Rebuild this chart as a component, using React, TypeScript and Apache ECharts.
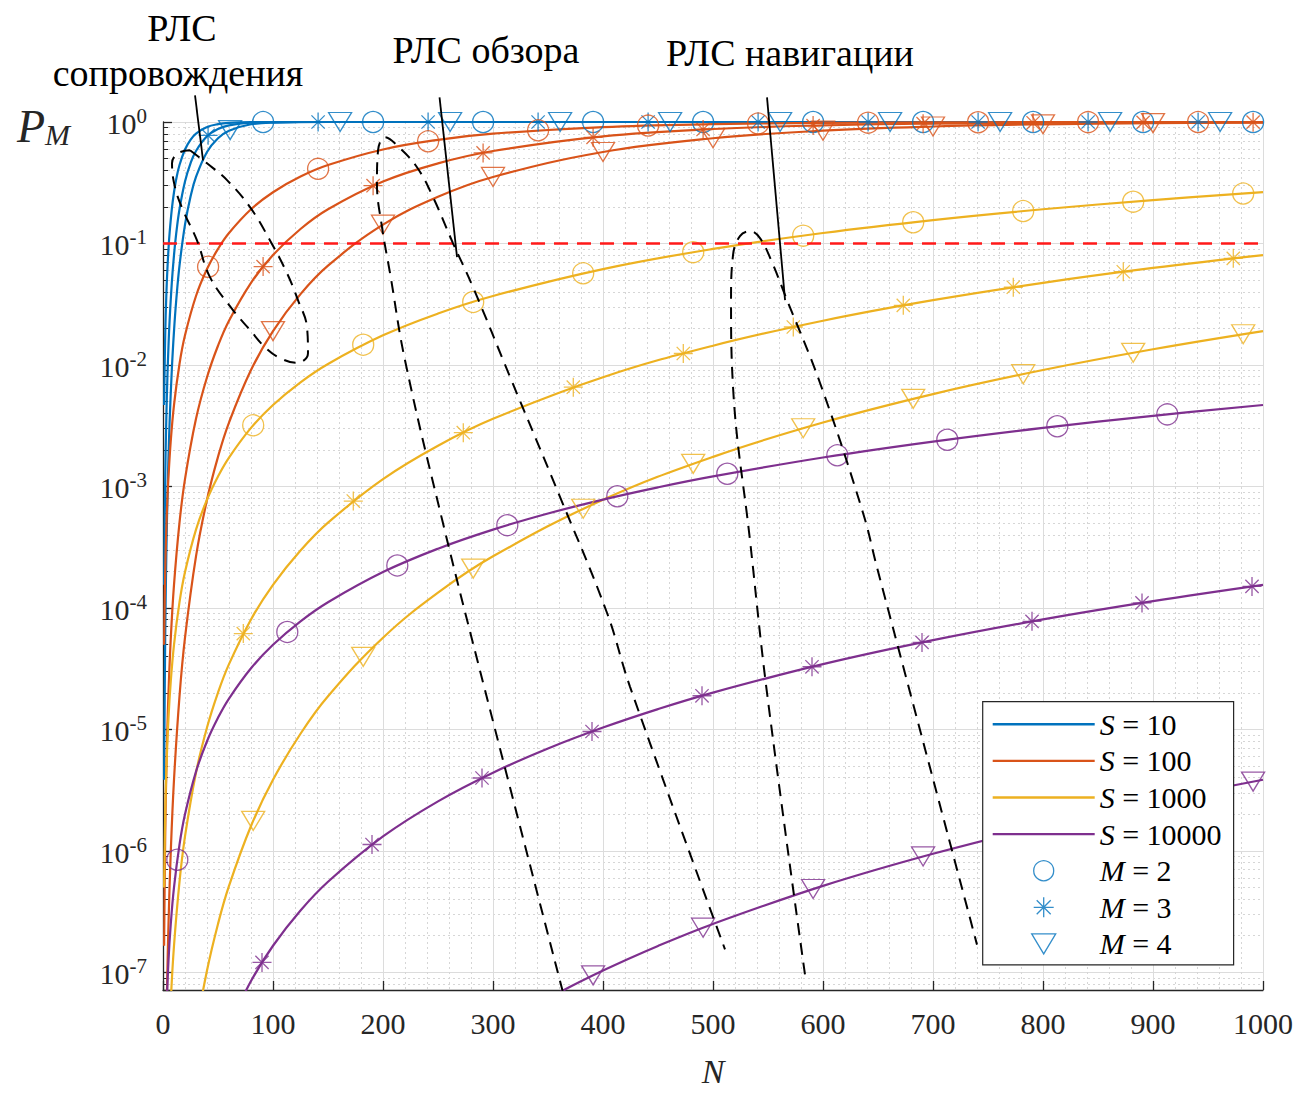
import React, { useEffect, useRef } from 'react';
import * as echarts from 'echarts';

const FONT = '"Liberation Serif", "Times New Roman", serif';
const COLORS = ['#0072BD', '#D95319', '#EDB120', '#7E2F8E'];
const S_NAMES = ['S = 10', 'S = 100', 'S = 1000', 'S = 10000'];
const M_NAMES = ['M = 2', 'M = 3', 'M = 4'];
const Y_MIN = 7.15e-8;
const Y_MAX = 1;
const THRESHOLD = 0.1;

// ---- curves (N, P_M) ----
const N_S10 = [1, 2, 3, 4, 5, 6, 8, 10, 12, 15, 20, 25, 30, 40, 50, 60, 80, 100, 150, 1000];
const P_S10_M2 = [0.00468, 0.01752, 0.03694, 0.06155, 0.0902, 0.1219, 0.1912, 0.2642, 0.3374, 0.4422, 0.594, 0.7127, 0.8009, 0.9084, 0.9596, 0.9826, 0.997, 0.9995, 1, 1];
const P_S10_M3 = [1.547e-4, 0.001148, 0.0036, 0.007926, 0.01439, 0.02312, 0.04742, 0.0803, 0.1205, 0.1912, 0.3233, 0.4562, 0.5768, 0.7619, 0.8753, 0.938, 0.9862, 0.9972, 1, 1];
const P_S10_M4 = [3.847e-6, 5.684e-5, 2.658e-4, 7.763e-4, 0.0017516, 0.003357, 0.00908, 0.01899, 0.03377, 0.06564, 0.1429, 0.2424, 0.3528, 0.5665, 0.735, 0.8488, 0.9576, 0.9897, 0.9998, 1];

const N_S100 = [1, 2, 3, 4, 5, 7, 10, 15, 20, 30, 40, 50, 60, 80, 100, 125, 150, 200, 250, 300, 400, 500, 600, 700, 800, 900, 1000];
const P_S100_M2 = [4.967e-5, 1.9735e-4, 4.411e-4, 7.789e-4, 0.0012089, 0.0023378, 0.004679, 0.010186, 0.01752, 0.03694, 0.06155, 0.0902, 0.1219, 0.1912, 0.2642, 0.3554, 0.4422, 0.594, 0.7127, 0.8009, 0.9084, 0.9596, 0.9826, 0.9927, 0.997, 0.9988, 0.9995];
const P_S100_M3 = [1.654e-7, 1.3134e-6, 4.4e-6, 1.0351e-5, 2.0067e-5, 5.424e-5, 1.547e-4, 5.027e-4, 0.001148, 0.0036, 0.007926, 0.01439, 0.02312, 0.04742, 0.0803, 0.1315, 0.1912, 0.3233, 0.4562, 0.5768, 0.7619, 0.8753, 0.938, 0.9704, 0.9862, 0.9938, 0.9972];
const P_S100_M4 = [4.1e-10, 6.5e-9, 3.275e-8, 1.033e-7, 2.502e-7, 9.459e-7, 3.847e-6, 1.8715e-5, 5.684e-5, 2.658e-4, 7.763e-4, 0.0017516, 0.003357, 0.00908, 0.01899, 0.03827, 0.06564, 0.1429, 0.2424, 0.3528, 0.5665, 0.735, 0.8488, 0.9182, 0.9576, 0.9788, 0.9897];

const N_S1000 = [1, 2, 3, 5, 7, 10, 15, 20, 30, 40, 50, 60, 80, 100, 125, 150, 200, 250, 300, 400, 500, 600, 700, 800, 900, 1000];
const P_S1000_M2 = [4.997e-7, 1.9973e-6, 4.491e-6, 1.2458e-5, 2.4387e-5, 4.967e-5, 1.1138e-4, 1.9735e-4, 4.411e-4, 7.789e-4, 0.0012089, 0.0017292, 0.0030333, 0.004679, 0.007191, 0.010186, 0.01752, 0.0265, 0.03694, 0.06155, 0.0902, 0.1219, 0.1558, 0.1912, 0.2275, 0.2642];
const P_S1000_M3 = [1.67e-10, 1.33e-9, 4.5e-9, 2.07e-8, 5.68e-8, 1.654e-7, 5.562e-7, 1.3134e-6, 4.4e-6, 1.0351e-5, 2.0067e-5, 3.4416e-5, 8.036e-5, 1.547e-4, 2.964e-4, 5.027e-4, 0.001148, 0.002161, 0.0036, 0.007926, 0.01439, 0.02312, 0.03414, 0.04742, 0.06286, 0.0803];
const P_S1000_M4 = [4.2e-14, 6.7e-13, 3.4e-12, 2.6e-11, 1.0e-10, 4.1e-10, 2.1e-9, 6.5e-9, 3.28e-8, 1.033e-7, 2.502e-7, 5.147e-7, 1.6008e-6, 3.847e-6, 9.204e-6, 1.8715e-5, 5.684e-5, 1.3337e-4, 2.658e-4, 7.763e-4, 0.0017516, 0.003357, 0.005754, 0.00908, 0.013458, 0.01899];

const N_S10000 = [3, 5, 7, 10, 15, 20, 30, 40, 50, 60, 80, 100, 125, 150, 200, 250, 300, 350, 400, 450, 500, 600, 700, 800, 900, 1000];
const P_S10000_M2 = [4.5e-8, 1.25e-7, 2.45e-7, 5.0e-7, 1.125e-6, 2.0e-6, 4.49e-6, 7.98e-6, 1.2458e-5, 1.7928e-5, 3.183e-5, 4.967e-5, 7.748e-5, 1.1138e-4, 1.9735e-4, 3.0733e-4, 4.411e-4, 5.984e-4, 7.789e-4, 9.826e-4, 0.0012089, 0.0017292, 0.0023378, 0.0030333, 0.0038133, 0.004679];
const P_S10000_M3 = [4.5e-12, 2.1e-11, 5.7e-11, 1.67e-10, 5.6e-10, 1.33e-9, 4.5e-9, 1.07e-8, 2.08e-8, 3.58e-8, 8.465e-8, 1.654e-7, 3.2247e-7, 5.562e-7, 1.3134e-6, 2.5557e-6, 4.4e-6, 6.961e-6, 1.0351e-5, 1.4684e-5, 2.0067e-5, 3.4416e-5, 5.424e-5, 8.036e-5, 1.1356e-4, 1.547e-4];
const P_S10000_M4 = [3.4e-16, 2.6e-15, 1.0e-14, 4.2e-14, 2.1e-13, 6.7e-13, 3.4e-12, 1.07e-11, 2.6e-11, 5.4e-11, 1.7e-10, 4.1e-10, 1.0e-9, 2.1e-9, 6.5e-9, 1.6e-8, 3.28e-8, 6.08e-8, 1.033e-7, 1.648e-7, 2.502e-7, 5.147e-7, 9.459e-7, 1.6008e-6, 2.544e-6, 3.847e-6];

// ---- marker positions (N, P_M) ----
const MK_N_S10_M2 = [91, 191, 291, 391, 491, 591, 691, 791, 891, 991];
const MK_P_S10_M2 = [0.9989, 1, 1, 1, 1, 1, 1, 1, 1, 1];
const MK_N_S10_M3 = [41, 141, 241, 341, 441, 541, 641, 741, 841, 941];
const MK_P_S10_M3 = [0.7762, 0.9999, 1, 1, 1, 1, 1, 1, 1, 1];
const MK_N_S10_M4 = [61, 161, 261, 361, 461, 561, 661, 761, 861, 961];
const MK_P_S10_M4 = [0.8575, 1, 1, 1, 1, 1, 1, 1, 1, 1];

const MK_N_S100_M2 = [41, 141, 241, 341, 441, 541, 641, 741, 841, 941];
const MK_P_S100_M2 = [0.06425, 0.4116, 0.6937, 0.8543, 0.9342, 0.9713, 0.9878, 0.9949, 0.9979, 0.9991];
const MK_N_S100_M3 = [91, 191, 291, 391, 491, 591, 691, 791, 891, 991];
const MK_P_S100_M3 = [0.0645, 0.299, 0.5563, 0.7484, 0.8676, 0.9339, 0.9683, 0.9852, 0.9933, 0.997];
const MK_N_S100_M4 = [100, 200, 300, 400, 500, 600, 700, 800, 900];
const MK_P_S100_M4 = [0.01899, 0.1429, 0.3528, 0.5665, 0.735, 0.8488, 0.9182, 0.9576, 0.9788];

const MK_N_S1000_M2 = [82, 182, 282, 382, 482, 582, 682, 782, 882, 982];
const MK_P_S1000_M2 = [0.003184, 0.01468, 0.03302, 0.05679, 0.0848, 0.116, 0.1496, 0.1848, 0.2209, 0.2576];
const MK_N_S1000_M3 = [73, 173, 273, 373, 473, 573, 673, 773, 873, 973];
const MK_P_S1000_M3 = [6.14e-5, 7.58e-4, 0.002767, 0.006556, 0.01242, 0.02053, 0.03094, 0.04362, 0.05849, 0.0754];
const MK_N_S1000_M4 = [82, 182, 282, 382, 482, 582, 682, 782, 882, 982];
const MK_P_S1000_M4 = [1.764e-6, 3.954e-5, 2.105e-4, 6.549e-4, 0.001534, 0.003013, 0.005257, 0.008398, 0.012588, 0.017901];

const MK_N_S10000_M2 = [13, 113, 213, 313, 413, 513, 613, 713, 813, 913];
const MK_P_S10000_M2 = [8.443e-7, 6.337e-5, 2.2364e-4, 4.7968e-4, 8.2955e-4, 0.0012713, 0.001803, 0.0024226, 0.0031285, 0.0039185];
const MK_N_S10000_M3 = [90, 190, 290, 390, 490, 590, 690, 790, 890, 990];
const MK_P_S10000_M3 = [1.2068e-7, 1.127e-6, 3.9774e-6, 9.6019e-6, 1.8902e-5, 3.2751e-5, 5.1996e-5, 7.7458e-5, 1.0993e-4, 1.5018e-4];
const MK_N_S10000_M4 = [391, 491, 591, 691, 791, 891, 991];
const MK_P_S10000_M4 = [9.439e-8, 2.3285e-7, 4.8488e-7, 8.9895e-7, 1.5313e-6, 2.4458e-6, 3.7132e-6];

// ---- annotations (in N, P_M coordinates) ----
const ANNOT_TRACKING: [number, number][] = [[24.5, 0.585], [40, 0.457], [58.2, 0.332], [79.1, 0.199], [97.3, 0.106], [112.7, 0.057], [122.7, 0.0342], [130.9, 0.0205], [131.8, 0.0125], [121.8, 0.0104], [106.4, 0.0114], [92.7, 0.014], [79.1, 0.0194], [63.6, 0.0283], [42.7, 0.0528], [30.9, 0.106], [18.2, 0.188], [10.9, 0.29], [8.2, 0.457], [13.6, 0.553], [24.5, 0.585]];
const ANNOT_SURVEY: [number, number][] = [[363.6, 6.84e-8], [292.7, 2.11e-5], [254.5, 4.99e-4], [220, 0.01092], [206.4, 0.057], [199.1, 0.1362], [194.5, 0.3133], [195.5, 0.585], [201.8, 0.748], [212.7, 0.643], [230.9, 0.424], [245.5, 0.2404], [263.6, 0.1006], [281.8, 0.04375], [315.5, 0.00796], [360.9, 8.2e-4], [403.6, 9.12e-5], [424.5, 2.25e-5], [510.9, 1.545e-7]];
const ANNOT_NAV: [number, number][] = [[583.6, 9.6e-8], [549.1, 2.0e-5], [533.6, 3.63e-4], [518.2, 0.00658], [516.4, 0.0342], [518.2, 0.0801], [524.5, 0.1148], [533.6, 0.1262], [542.7, 0.1106], [553.6, 0.0702], [565.5, 0.0376], [597.3, 0.0071], [636.4, 6.05e-4], [649, 2.17e-4], [740, 1.69e-7]];
const LEADER_TRACKING: [number, number][] = [[29.1, 1.658], [36.4, 0.484]];
const LEADER_SURVEY: [number, number][] = [[251.4, 1.596], [267.3, 0.0772]];
const LEADER_NAV: [number, number][] = [[549.1, 1.596], [565.5, 0.0342]];

const TITLE_TRACKING_1 = 'РЛС';
const TITLE_TRACKING_2 = 'сопровождения';
const TITLE_SURVEY = 'РЛС обзора';
const TITLE_NAV = 'РЛС навигации';

const GROUPS = [
  { n: N_S10, p: [P_S10_M2, P_S10_M3, P_S10_M4], mn: [MK_N_S10_M2, MK_N_S10_M3, MK_N_S10_M4], mp: [MK_P_S10_M2, MK_P_S10_M3, MK_P_S10_M4] },
  { n: N_S100, p: [P_S100_M2, P_S100_M3, P_S100_M4], mn: [MK_N_S100_M2, MK_N_S100_M3, MK_N_S100_M4], mp: [MK_P_S100_M2, MK_P_S100_M3, MK_P_S100_M4] },
  { n: N_S1000, p: [P_S1000_M2, P_S1000_M3, P_S1000_M4], mn: [MK_N_S1000_M2, MK_N_S1000_M3, MK_N_S1000_M4], mp: [MK_P_S1000_M2, MK_P_S1000_M3, MK_P_S1000_M4] },
  { n: N_S10000, p: [P_S10000_M2, P_S10000_M3, P_S10000_M4], mn: [MK_N_S10000_M2, MK_N_S10000_M3, MK_N_S10000_M4], mp: [MK_P_S10000_M2, MK_P_S10000_M3, MK_P_S10000_M4] },
];

const STAR_PATH = 'path://M10,0L10,20M0,10L20,10M3,3L17,17M3,17L17,3';
const TRI_PATH = 'path://M0,0L24,0L12,20Z';
const LINE_ICON = 'path://M0,0H100V2.4H0Z';
const MARKER_SYMBOLS = ['circle', STAR_PATH, TRI_PATH];
const MARKER_SIZES: any[] = [21, 19, [23, 19]];

function buildOption() {
  const series: any[] = [];
  GROUPS.forEach((g, si) => {
    g.p.forEach((pArr) => {
      series.push({
        type: 'line',
        name: S_NAMES[si],
        data: g.n.map((n, i) => [n, pArr[i]]),
        symbol: 'none',
        showSymbol: false,
        smooth: 0.4,
        lineStyle: { color: COLORS[si], width: 2.2 },
        itemStyle: { color: COLORS[si] },
        z: 2,
        silent: true,
      });
    });
    g.mn.forEach((nArr, mi) => {
      series.push({
        type: 'scatter',
        name: M_NAMES[mi],
        data: nArr.map((n, i) => [n, g.mp[mi][i]]),
        symbol: MARKER_SYMBOLS[mi],
        symbolSize: MARKER_SIZES[mi],
        itemStyle: { color: 'transparent', borderColor: COLORS[si], borderWidth: 1.3 },
        z: 3,
        silent: true,
      });
    });
  });

  series.push({
    type: 'line',
    name: 'threshold',
    data: [[0, THRESHOLD], [1000, THRESHOLD]],
    symbol: 'none',
    lineStyle: { color: '#FF1A1A', width: 2.5, type: [14, 9] },
    z: 4,
    silent: true,
  });

  [ANNOT_TRACKING, ANNOT_SURVEY, ANNOT_NAV].forEach((a) => {
    series.push({
      type: 'line',
      name: 'annot',
      data: a,
      symbol: 'none',
      smooth: 0.4,
      lineStyle: { color: '#000', width: 2, type: [12, 8] },
      z: 5,
      silent: true,
    });
  });
  [LEADER_TRACKING, LEADER_SURVEY, LEADER_NAV].forEach((a) => {
    series.push({
      type: 'line',
      name: 'leader',
      data: a,
      symbol: 'none',
      clip: false,
      lineStyle: { color: '#000', width: 1.8 },
      z: 5,
      silent: true,
    });
  });

  const titleText = (text: string, x: number, y: number) => ({
    type: 'text',
    x,
    y,
    silent: true,
    style: { text, fill: '#000', fontSize: 38, fontFamily: FONT, align: 'center', verticalAlign: 'middle' },
  });

  return {
    animation: false,
    backgroundColor: '#fff',
    grid: { left: 163, top: 122, width: 1100, height: 868, containLabel: false, outerBoundsMode: 'none' },
    xAxis: {
      type: 'value',
      min: 0,
      max: 1000,
      interval: 100,
      axisLine: { show: true, onZero: false, lineStyle: { color: '#262626', width: 1.3 } },
      axisTick: { show: true, inside: true, length: 9, lineStyle: { color: '#262626', width: 1.3 } },
      minorTick: { show: false, splitNumber: 5 },
      axisLabel: { show: true, margin: 18, fontSize: 30, fontFamily: FONT, color: '#262626', formatter: (v: number) => String(v) },
      splitLine: { show: true, lineStyle: { color: '#dcdcdc', width: 1 } },
      minorSplitLine: { show: true, lineStyle: { color: '#d6d6d6', width: 1, type: [2, 3] } },
      name: 'N',
      nameLocation: 'middle',
      nameGap: 64,
      nameTextStyle: { fontSize: 34, fontStyle: 'italic', fontFamily: FONT, color: '#262626' },
    },
    yAxis: {
      type: 'log',
      logBase: 10,
      min: Y_MIN,
      max: Y_MAX,
      axisLine: { show: true, lineStyle: { color: '#262626', width: 1.3 } },
      axisTick: { show: true, inside: true, length: 9, lineStyle: { color: '#262626', width: 1.3 } },
      minorTick: { show: true, splitNumber: 9, length: 5, lineStyle: { color: '#262626', width: 1 } },
      axisLabel: {
        show: true,
        margin: 16,
        color: '#262626',
        formatter: (v: number) => {
          const e = Math.log10(v);
          const r = Math.round(e);
          if (Math.abs(e - r) > 1e-6) return '';
          return `{b|10}{s|${r}}`;
        },
        rich: {
          b: { fontSize: 30, fontFamily: FONT, color: '#262626', verticalAlign: 'bottom' },
          s: { fontSize: 21, fontFamily: FONT, color: '#262626', verticalAlign: 'bottom', padding: [0, 0, 12, 0] },
        },
      },
      splitLine: { show: true, lineStyle: { color: '#dcdcdc', width: 1 } },
      minorSplitLine: { show: true, lineStyle: { color: '#d6d6d6', width: 1, type: [2, 3] } },
      name: '{p|P}{m|M}',
      nameLocation: 'end',
      nameGap: -4,
      nameTextStyle: {
        align: 'right',
        verticalAlign: 'middle',
        padding: [0, 93, 0, 0],
        rich: {
          p: { fontSize: 46, fontStyle: 'italic', fontFamily: FONT, color: '#262626', verticalAlign: 'bottom' },
          m: { fontSize: 30, fontStyle: 'italic', fontFamily: FONT, color: '#262626', verticalAlign: 'bottom' },
        },
      },
    },
    legend: {
      orient: 'vertical',
      left: 982.7,
      top: 701.7,
      padding: [7.6, 12, 6, 10],
      itemWidth: 102,
      itemHeight: 20,
      itemGap: 6.6,
      backgroundColor: '#fff',
      borderColor: '#262626',
      borderWidth: 1.2,
      selectedMode: false,
      itemStyle: { borderWidth: 0 },
      textStyle: {
        fontFamily: FONT,
        fontSize: 30,
        color: '#000',
        rich: { i: { fontStyle: 'italic', fontFamily: FONT, fontSize: 30, color: '#000' } },
      },
      formatter: (name: string) => name.replace(/^([SM])/, '{i|$1}'),
      data: [
        ...S_NAMES.map((n) => ({ name: n, icon: LINE_ICON })),
        { name: M_NAMES[0], icon: 'circle', itemStyle: { borderWidth: 1.3 } },
        { name: M_NAMES[1], icon: STAR_PATH, itemStyle: { borderWidth: 1.3 } },
        { name: M_NAMES[2], icon: TRI_PATH, itemStyle: { borderWidth: 1.3 } },
      ],
    },
    graphic: [
      titleText(TITLE_TRACKING_1, 182, 28),
      titleText(TITLE_TRACKING_2, 178, 73),
      titleText(TITLE_SURVEY, 486, 50),
      titleText(TITLE_NAV, 790, 53),
    ],
    series,
  };
}

export default function App() {
  const ref = useRef<HTMLDivElement>(null);
  useEffect(() => {
    if (!ref.current) return;
    const chart = echarts.init(ref.current, undefined, { renderer: 'svg' });
    chart.setOption(buildOption() as any);
    return () => chart.dispose();
  }, []);
  return (
    <div
      ref={ref}
      style={{ position: 'absolute', left: 0, top: 0, width: 1314, height: 1095, background: '#fff' }}
    />
  );
}
